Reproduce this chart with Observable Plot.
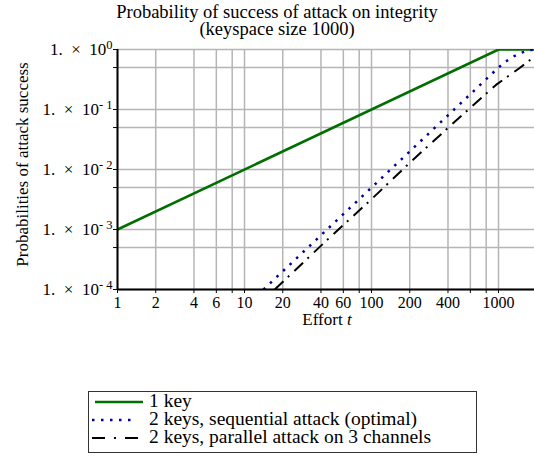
<!DOCTYPE html>
<html><head><meta charset="utf-8">
<script src="https://cdn.jsdelivr.net/npm/d3@7"></script>
<script src="https://cdn.jsdelivr.net/npm/@observablehq/plot@0.6"></script>
<style>
body{margin:0;background:#fff;font-family:"Liberation Serif",serif;color:#000;}
#wrap{position:relative;width:534px;height:458px;overflow:hidden;}
#title{position:absolute;left:0;width:554px;top:4px;text-align:center;font-size:18.5px;line-height:17px;}
#chart{position:absolute;left:0;top:0;}
#legend{position:absolute;left:88px;top:391px;}
</style></head><body>
<div id="wrap">
<div id="chart"></div>
<div id="title">Probability of success of attack on integrity<br>(keyspace size 1000)</div>
<div id="legend"></div>
</div>
<script>
// ---- data ----
const seriesNames = ["1 key", "2 keys, sequential attack (optimal)", "2 keys, parallel attack on 3 channels"];
const effort1 = [1, 1000, 2000];
const prob1 = [0.001, 1, 1];
const effortSeq = [14.1, 100, 1000, 1100, 1200, 1300, 1400, 1500, 1600, 1700, 1800, 1900, 2000];
const probSeq = [0.0001, 0.005, 0.5, 0.595, 0.68, 0.755, 0.82, 0.875, 0.92, 0.955, 0.98, 0.995, 1];
const effortPar = [17.3, 47, 100, 208, 443, 955, 1458, 1726, 1880, 1950];
const probPar = [0.0001, 0.00074, 0.0032, 0.014, 0.06, 0.257, 0.488, 0.64, 0.744, 0.78];
const xTicks = [1, 2, 4, 6, 8, 10, 20, 40, 60, 80, 100, 200, 400, 600, 800, 1000];
const xLabelled = [1, 2, 4, 6, 10, 20, 40, 60, 100, 200, 400, 1000];
const yTicks = [1e-4, 5e-4, 1e-3, 5e-3, 1e-2, 5e-2, 1e-1, 5e-1, 1];
const yLabelled = [1e-4, 1e-3, 1e-2, 1e-1, 1];
const xLabel = "Effort";
const xLabelVar = "t";
const yLabel = "Probabilities of attack success";

const colors = ["#006e00", "#0000a0", "#000000"];
const dashes = [null, "2.5,6.5", "12,6,2,7"];
const widths = [2.6, 2.5, 2];

const toRows = (xs, ys) => xs.map((x, i) => ({x, y: ys[i]}));
const rows = [toRows(effort1, prob1), toRows(effortSeq, probSeq), toRows(effortPar, probPar)];

const gridStyle = {stroke: "#b5b5b5", strokeOpacity: 1, strokeWidth: 1.5};

const svg = Plot.plot({
  width: 534, height: 458,
  marginTop: 49, marginBottom: 169, marginLeft: 117, marginRight: 0,
  style: {fontFamily: "Liberation Serif, serif", fontSize: "16px", background: "transparent", color: "#000"},
  x: {type: "log", domain: [1, 1920]},
  y: {type: "log", domain: [1e-4, 1]},
  marks: [
    Plot.gridX(xTicks, gridStyle),
    Plot.gridY(yTicks, gridStyle),
    Plot.axisX(xTicks, {tickSize: 4, label: null, tickFormat: () => ""}),
    Plot.text(xLabelled, {x: d => d, text: d => String(d), frameAnchor: "bottom", lineAnchor: "top", dy: 7, fontSize: 16}),
    Plot.axisY(yTicks, {tickSize: 4, tickPadding: 1, label: null, fontSize: 17, tickFormat: d => yLabelled.includes(d) ? "E" + Math.round(Math.log10(d)) : ""}),
    ...rows.map((r, i) => Plot.line(r, {x: "x", y: "y", stroke: colors[i], strokeWidth: widths[i], strokeDasharray: dashes[i], strokeLinecap: "butt", clip: true})),
    Plot.ruleX([1], {stroke: "#000", strokeWidth: 2}),
    Plot.ruleY([1e-4], {stroke: "#000", strokeWidth: 2}),
    Plot.text([yLabel], {text: d => d, frameAnchor: "left", textAnchor: "middle", dx: -95, dy: -5, rotate: -90, fontSize: 17})
  ]
});
document.getElementById("chart").appendChild(svg);

// superscript exponents on y tick labels
d3.select(svg).selectAll('g[aria-label="y-axis tick label"] text').each(function () {
  const t = d3.select(this);
  const s = t.text();
  if (!s) return;
  const e = +s.slice(1);
  t.text("1.\u2002\u00d7\u200210");
  t.append("tspan").attr("dy", "-0.45em").attr("font-size", "12.5px").text(e === 0 ? "0" : "- " + (-e));
});

// x axis title with italic variable
const xt = d3.select(svg).append("text")
  .attr("x", 327).attr("y", 325).attr("text-anchor", "middle")
  .attr("font-family", "Liberation Serif, serif").attr("font-size", 17);
xt.append("tspan").text(xLabel + " ");
xt.append("tspan").attr("font-style", "italic").text(xLabelVar);

// legend
const lg = d3.select("#legend").append("svg").attr("width", 390).attr("height", 64);
lg.append("rect").attr("x", 0.5).attr("y", 0.5).attr("width", 388).attr("height", 61)
  .attr("fill", "#fff").attr("stroke", "#333").attr("stroke-width", 1);
seriesNames.forEach((name, i) => {
  const cy = 11 + i * 18;
  lg.append("line").attr("x1", i === 0 ? 7 : 4).attr("x2", i === 1 ? 48 : 55).attr("y1", cy).attr("y2", cy)
    .attr("stroke", colors[i]).attr("stroke-width", widths[i])
    .attr("stroke-dasharray", i === 2 ? "13,9,2,9" : i === 1 ? "2.5,6.5" : null);
  lg.append("text").attr("x", 61).attr("y", cy + 5).attr("font-family", "Liberation Serif, serif")
    .attr("font-size", 19.5).text(name);
});
</script>
</body></html>
